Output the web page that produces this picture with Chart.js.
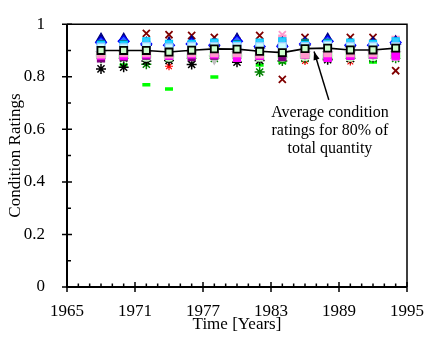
<!DOCTYPE html>
<html><head><meta charset="utf-8">
<script src="https://cdn.jsdelivr.net/npm/chart.js@4"></script>
<style>html,body{margin:0;padding:0;background:#fff}#wrap{width:426px;height:349px}</style>
</head><body><div id="wrap"><canvas id="c" width="426" height="349"></canvas></div>
<script>
const years = [1968,1970,1972,1974,1976,1978,1980,1982,1984,1986,1988,1990,1992,1994];
const averageRating = [0.900,0.900,0.900,0.894,0.901,0.906,0.905,0.897,0.892,0.907,0.909,0.902,0.902,0.909];
const navyTri   = [0.945,0.945,0.930,0.930,0.935,0.925,0.945,0.920,0.930,0.930,0.945,0.925,0.930,0.935];
const blueDiam  = [0.930,0.935,0.925,0.920,0.925,0.920,0.935,0.915,0.915,0.925,0.935,0.920,0.920,0.930];
const cyanSq    = [0.920,0.920,0.935,0.925,0.925,0.930,0.920,0.930,0.935,0.920,0.925,0.930,0.925,0.935];
const tealSq    = [0.925,0.925,0.920,0.915,0.920,0.925,0.925,0.925,0.920,0.930,0.930,0.920,0.925,0.920];
const paleCyan  = [0.912,0.910,0.915,0.910,0.915,0.915,0.915,0.915,0.915,0.915,0.920,0.915,0.915,0.915];
const pinkSq    = [0.885,0.890,0.890,0.885,0.890,0.890,0.890,0.885,0.945,0.885,0.890,0.890,0.890,0.940];
const magentaSq = [0.880,0.880,0.885,0.880,0.885,0.885,0.872,0.880,0.928,0.885,0.872,0.880,0.885,0.878];
const purpleSq  = [0.870,0.875,0.880,0.880,0.875,0.880,0.885,0.880,0.875,0.885,0.880,0.880,0.885,0.885];
const grayTri   = [0.885,0.885,0.885,0.885,0.885,0.868,0.885,0.885,0.885,0.885,0.885,0.885,0.885,0.885];
const lightGreen= [0.880,0.880,0.878,0.878,0.880,0.880,0.880,0.878,0.878,0.880,0.880,0.878,0.880,0.880];
const darkRedX  = [0.930,0.930,0.965,0.960,0.957,0.950,0.935,0.957,0.790,0.950,0.930,0.950,0.950,0.823];
const pinkX     = [0.925,0.925,0.925,0.920,0.925,0.925,0.925,0.925,0.960,0.925,0.925,0.925,0.925,0.925];
const blackStar = [0.830,0.836,0.860,0.862,0.847,0.880,0.855,0.862,0.875,0.875,0.865,0.870,0.875,0.880];
const greenStar = [0.870,0.870,0.848,0.870,0.870,0.870,0.870,0.818,0.860,0.870,0.870,0.870,0.870,0.870];
const redStar   = [0.875,0.875,0.870,0.840,0.875,0.875,0.875,0.875,0.875,0.860,0.875,0.858,0.875,0.875];
const limeDash  = [0.880,0.845,0.770,0.753,0.880,0.799,0.880,0.845,0.856,0.880,0.880,0.880,0.856,0.880];

const yTicks = [0,0.2,0.4,0.6,0.8,1];
const xTicks = [1965,1971,1977,1983,1989,1995];
const annotationLines = ["Average condition","ratings for 80% of","total quantity"];

const pts = arr => years.map((x,i)=>({x, y: arr[i]}));
function sc(label, arr, style, fill, border, r, extra){
  return Object.assign({type:'scatter', label, data: pts(arr), pointStyle: style,
    backgroundColor: fill, borderColor: border, pointRadius: r, borderWidth: 1.2, showLine:false}, extra||{});
}
const FONT = {family: "'Liberation Serif', 'Times New Roman', serif", size: 17};

// first dataset is drawn on top
const datasets = [
  sc('avg', averageRating, 'rect', '#ccffcc', '#000000', 5, {type:'line', showLine:true, borderWidth:1.6, pointBorderWidth:1.8, pointBackgroundColor:'#ccffcc', pointBorderColor:'#000', borderColor:'#000', fill:false}),
  sc('paleCyan', paleCyan, 'rect', '#ccffff', '#99ccff', 5.5),
  sc('cyan', cyanSq, 'rect', '#33ccff', '#00ccff', 5),
  sc('teal', tealSq, 'rect', '#008080', '#008080', 4.5),
  sc('blue', blueDiam, 'rectRot', '#3366ff', '#0000ff', 5.5),
  sc('navy', navyTri, 'triangle', '#000080', '#000080', 5.5),
  sc('pink', pinkSq, 'rect', '#ff99cc', '#ff99cc', 5),
  sc('magenta', magentaSq, 'rect', '#ff00ff', '#ff00ff', 5),
  sc('purple', purpleSq, 'rect', '#800080', '#800080', 5),
  sc('gray', grayTri, 'triangle', '#c0c0c0', '#c0c0c0', 5.5, {rotation:180}),
  sc('lightGreen', lightGreen, 'circle', '#ccffcc', '#ccffcc', 5),
  sc('pinkX', pinkX, 'crossRot', 'rgba(0,0,0,0)', '#ff99cc', 5, {borderWidth:1.8}),
  sc('darkRedX', darkRedX, 'crossRot', 'rgba(0,0,0,0)', '#800000', 5, {borderWidth:1.8}),
  sc('blackStar', blackStar, 'star', 'rgba(0,0,0,0)', '#000000', 5, {borderWidth:1.5}),
  sc('greenStar', greenStar, 'star', 'rgba(0,0,0,0)', '#008000', 5, {borderWidth:1.5}),
  sc('redStar', redStar, 'star', 'rgba(0,0,0,0)', '#ff0000', 4),
  sc('limeDash', limeDash, 'line', '#00ff00', '#00ff00', 4, {borderWidth:3.5}),
];

const axisPlugin = {
  id:'axisPlugin',
  afterDatasetsDraw(chart){
    const {ctx, chartArea:a, scales:{x,y}} = chart;
    ctx.save();
    ctx.strokeStyle = '#000';
    ctx.lineWidth = 1.5;
    ctx.beginPath();
    ctx.moveTo(a.left, a.top); ctx.lineTo(a.right, a.top); ctx.lineTo(a.right, a.bottom);
    ctx.stroke();
    ctx.lineWidth = 2;
    ctx.beginPath();
    ctx.moveTo(a.left, a.top); ctx.lineTo(a.left, a.bottom); ctx.lineTo(a.right, a.bottom);
    ctx.stroke();
    ctx.lineWidth = 1.5;
    ctx.beginPath();
    for (let v=0; v<=10; v++){
      const py = y.getPixelForValue(v/10);
      if (v%2===0){ ctx.moveTo(a.left-5, py); ctx.lineTo(a.left+5, py); }
      else { ctx.moveTo(a.left, py); ctx.lineTo(a.left+4, py); }
    }
    for (let yr=1965; yr<=1995; yr++){
      const px = x.getPixelForValue(yr);
      if ((yr-1965)%6===0){ ctx.moveTo(px, a.bottom-5); ctx.lineTo(px, a.bottom+5); }
      else { ctx.moveTo(px, a.bottom); ctx.lineTo(px, a.bottom-3.5); }
    }
    ctx.stroke();
    ctx.fillStyle = '#000';
    ctx.font = "16px 'Liberation Serif', 'Times New Roman', serif";
    ctx.textAlign = 'center'; ctx.textBaseline = 'middle';
    const tx = x.getPixelForValue(1988.2);
    const lineYs = [0.664, 0.595, 0.525];
    annotationLines.forEach((t,i)=> ctx.fillText(t, tx, y.getPixelForValue(lineYs[i])));
    const x0 = x.getPixelForValue(1988.1), y0 = y.getPixelForValue(0.712);
    const x1 = x.getPixelForValue(1986.8), y1 = y.getPixelForValue(0.896);
    ctx.lineWidth = 1.5;
    ctx.beginPath(); ctx.moveTo(x0,y0); ctx.lineTo(x1,y1); ctx.stroke();
    const ang = Math.atan2(y1-y0, x1-x0), L = 9, w = 0.35;
    ctx.beginPath();
    ctx.moveTo(x1,y1);
    ctx.lineTo(x1 - L*Math.cos(ang-w), y1 - L*Math.sin(ang-w));
    ctx.lineTo(x1 - L*Math.cos(ang+w), y1 - L*Math.sin(ang+w));
    ctx.closePath(); ctx.fill();
    ctx.restore();
  }
};

new Chart(document.getElementById('c'), {
  data: {datasets},
  options: {
    responsive:false, animation:false,
    layout: {padding: {top:13, right:0, left:0, bottom:0}},
    plugins: {legend:{display:false}, tooltip:{enabled:false}},
    scales: {
      x: {type:'linear', min:1965, max:1995,
        afterBuildTicks: s => { s.ticks = xTicks.map(v=>({value:v})); },
        afterFit: s => { s.height = 62; s.paddingRight = 19; },
        grid:{display:false}, border:{display:false},
        ticks:{font:FONT, color:'#000', padding:6, maxRotation:0, callback: v => String(v)},
        title:{display:true, text:'Time [Years]', font:FONT, color:'#000', padding:{top:0,bottom:14}}},
      y: {type:'linear', min:0, max:1,
        afterBuildTicks: s => { s.ticks = yTicks.map(v=>({value:v})); },
        afterFit: s => { s.width = 67; },
        grid:{display:false}, border:{display:false},
        ticks:{font:FONT, color:'#000', padding:14, callback: v => String(v)},
        title:{display:true, text:'Condition Ratings', font:FONT, color:'#000', padding:{top:5,bottom:0}}}
    }
  },
  plugins:[axisPlugin]
});
</script></body></html>
